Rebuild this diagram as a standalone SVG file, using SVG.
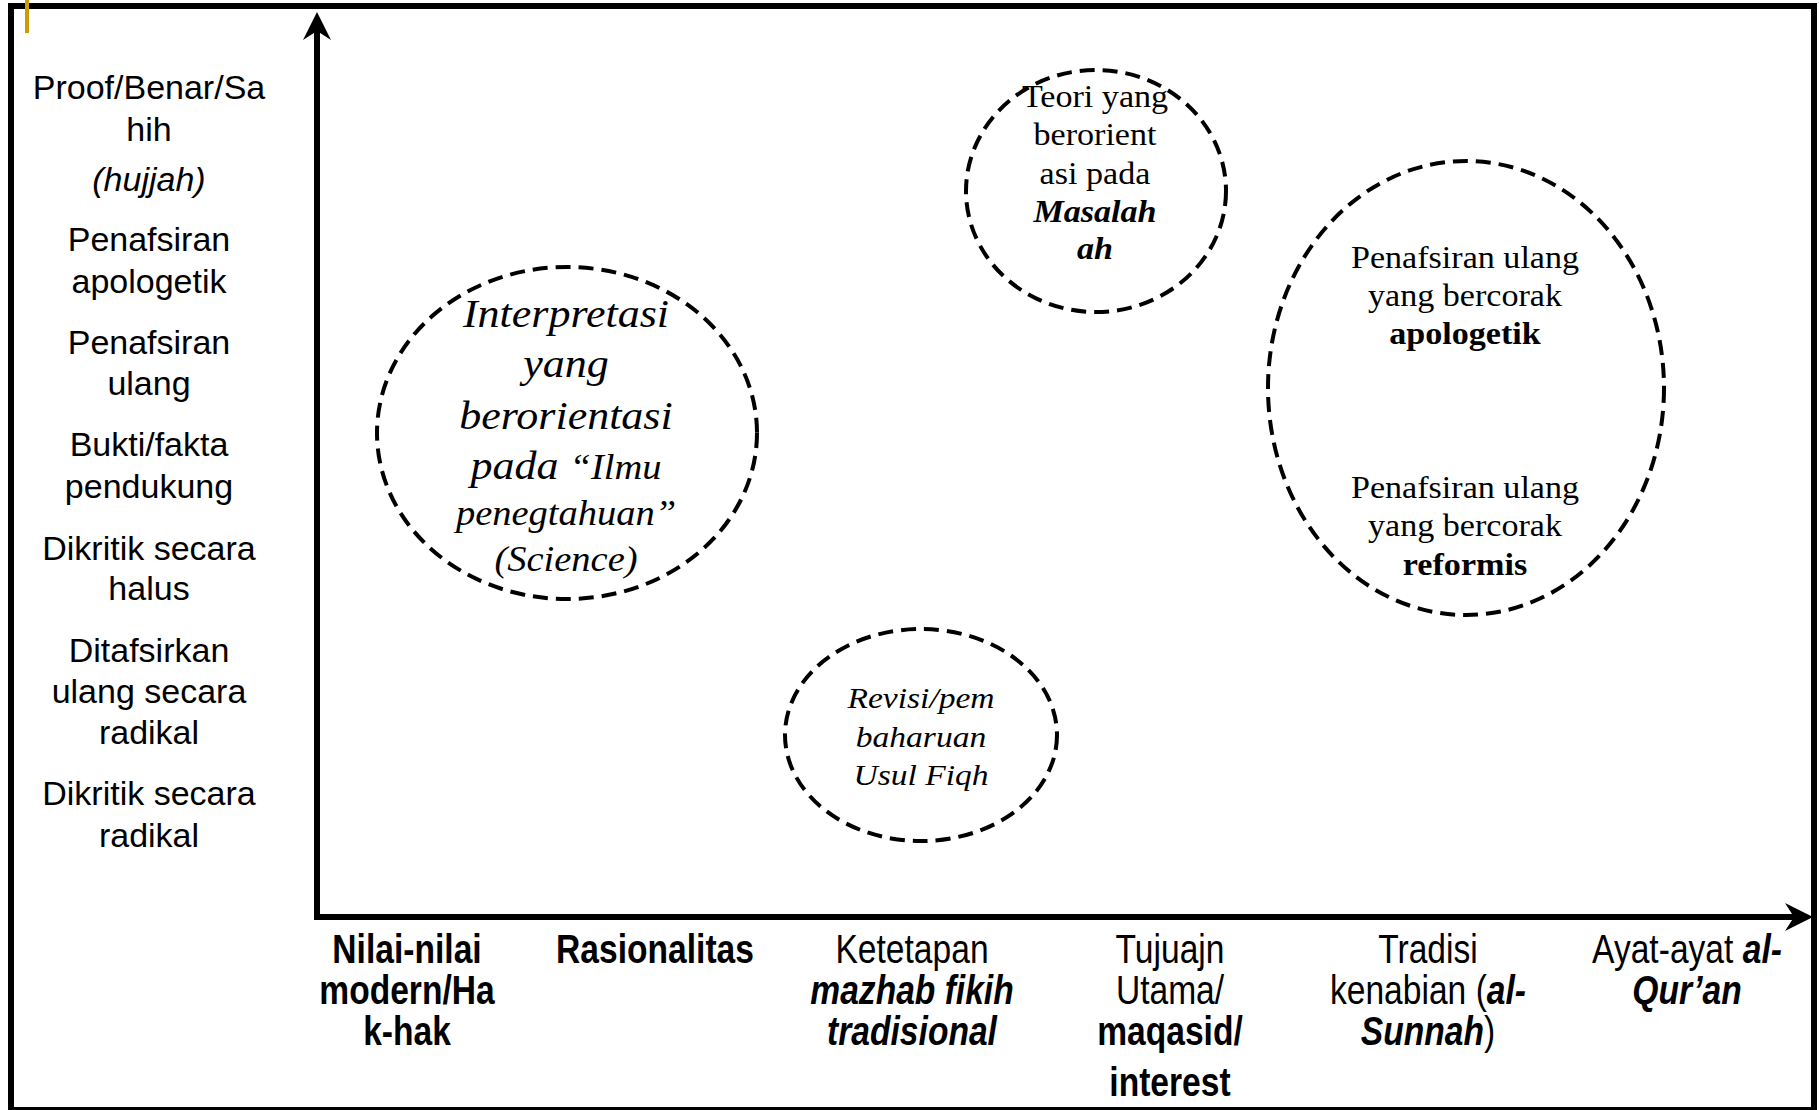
<svg xmlns="http://www.w3.org/2000/svg" width="1819" height="1110" viewBox="0 0 1819 1110">
  <style>
    .frame { fill: none; stroke: #000; stroke-width: 6; }
    .axis { fill: none; stroke: #000; stroke-width: 6; }
    .head { fill: #000; stroke: none; }
    .bubble { fill: none; stroke: #000; stroke-width: 4; stroke-dasharray: 15 8; }
    .sans { font-family: "Liberation Sans", Arial, sans-serif; fill: #000; text-anchor: middle; }
    .side { font-size: 34px; }
    .cat { font-size: 40px; }
    .serif { font-family: "Liberation Serif", "Times New Roman", serif; fill: #000; text-anchor: middle; }
    .b { font-weight: bold; }
    .i { font-style: italic; }
  </style>

  <rect x="0" y="0" width="1819" height="1110" fill="#fff"/>

  <!-- outer frame and small gold tick -->
  <rect class="frame" x="11" y="6" width="1803" height="1104"/>
  <rect x="25" y="0" width="4" height="33" fill="#CF9A0A"/>

  <!-- axes -->
  <g id="connectors">
    <path class="axis" d="M317 917 L317 30"/>
    <path class="head" d="M317 12 L331 40 L317 31 L303 40 Z"/>
    <path class="axis" d="M314 917 L1795 917"/>
    <path class="head" d="M1813 917 L1785 931 L1794 917 L1785 903 Z"/>
  </g>

  <!-- vertical scale labels -->
  <g id="y-labels" class="sans side">
    <text x="149" y="99">Proof/Benar/Sa</text>
    <text x="149" y="141">hih</text>
    <text x="149" y="191" class="i">(hujjah)</text>
    <text x="149" y="251">Penafsiran</text>
    <text x="149" y="293">apologetik</text>
    <text x="149" y="354">Penafsiran</text>
    <text x="149" y="395">ulang</text>
    <text x="149" y="456">Bukti/fakta</text>
    <text x="149" y="498">pendukung</text>
    <text x="149" y="560">Dikritik secara</text>
    <text x="149" y="600">halus</text>
    <text x="149" y="662">Ditafsirkan</text>
    <text x="149" y="703">ulang secara</text>
    <text x="149" y="744">radikal</text>
    <text x="149" y="805">Dikritik secara</text>
    <text x="149" y="847">radikal</text>
  </g>

  <!-- horizontal scale labels (condensed) -->
  <g id="x-labels" class="sans cat">
    <g transform="translate(407 0) scale(0.84 1)">
      <text x="0" y="963" class="b">Nilai-nilai</text>
      <text x="0" y="1004" class="b">modern/Ha</text>
      <text x="0" y="1045" class="b">k-hak</text>
    </g>
    <g transform="translate(655 0) scale(0.84 1)">
      <text x="0" y="963" class="b">Rasionalitas</text>
    </g>
    <g transform="translate(912 0) scale(0.84 1)">
      <text x="0" y="963">Ketetapan</text>
      <text x="0" y="1004" class="b i">mazhab fikih</text>
      <text x="0" y="1045" class="b i">tradisional</text>
    </g>
    <g transform="translate(1170 0) scale(0.84 1)">
      <text x="0" y="963">Tujuajn</text>
      <text x="0" y="1004">Utama/</text>
      <text x="0" y="1045" class="b">maqasid/</text>
      <text x="0" y="1096" class="b">interest</text>
    </g>
    <g transform="translate(1428 0) scale(0.84 1)">
      <text x="0" y="963">Tradisi</text>
      <text x="0" y="1004">kenabian (<tspan class="b i">al-</tspan></text>
      <text x="0" y="1045"><tspan class="b i">Sunnah</tspan>)</text>
    </g>
    <g transform="translate(1687 0) scale(0.84 1)">
      <text x="0" y="963">Ayat-ayat <tspan class="b i">al-</tspan></text>
      <text x="0" y="1004" class="b i">Qur’an</text>
    </g>
  </g>

  <!-- science-oriented interpretation -->
  <g id="node-science">
    <ellipse class="bubble" cx="567" cy="433" rx="190" ry="166"/>
    <g class="serif i" transform="translate(566 0) scale(1.1 1)">
      <text x="0" y="327" font-size="40">Interpretasi</text>
      <text x="0" y="377" font-size="40">yang</text>
      <text x="0" y="429" font-size="40">berorientasi</text>
      <text x="0" y="479" font-size="40">pada <tspan font-size="35">“Ilmu</tspan></text>
      <text x="0" y="525" font-size="35">penegtahuan”</text>
      <text x="0" y="571" font-size="35">(Science)</text>
    </g>
  </g>

  <!-- maslahah-oriented theory -->
  <g id="node-maslahah">
    <ellipse class="bubble" cx="1096" cy="191" rx="130" ry="121"/>
    <g class="serif" font-size="31" transform="translate(1095 0) scale(1.1 1)">
      <text x="0" y="107">Teori yang</text>
      <text x="0" y="145">berorient</text>
      <text x="0" y="184">asi pada</text>
      <text x="0" y="222" class="b i">Masalah</text>
      <text x="0" y="259" class="b i">ah</text>
    </g>
  </g>

  <!-- apologetic / reformist reinterpretation -->
  <g id="node-reinterpretation">
    <ellipse class="bubble" cx="1466" cy="388" rx="198" ry="227"/>
    <g class="serif" font-size="31" transform="translate(1465 0) scale(1.1 1)">
      <text x="0" y="268">Penafsiran ulang</text>
      <text x="0" y="306">yang bercorak</text>
      <text x="0" y="344" class="b">apologetik</text>
      <text x="0" y="498">Penafsiran ulang</text>
      <text x="0" y="536">yang bercorak</text>
      <text x="0" y="575" class="b">reformis</text>
    </g>
  </g>

  <!-- usul fiqh revision -->
  <g id="node-usul-fiqh">
    <ellipse class="bubble" cx="921" cy="735" rx="136" ry="106"/>
    <g class="serif i" font-size="30.5" transform="translate(921 0) scale(1.1 1)">
      <text x="0" y="708">Revisi/pem</text>
      <text x="0" y="747">baharuan</text>
      <text x="0" y="785">Usul Fiqh</text>
    </g>
  </g>
</svg>
